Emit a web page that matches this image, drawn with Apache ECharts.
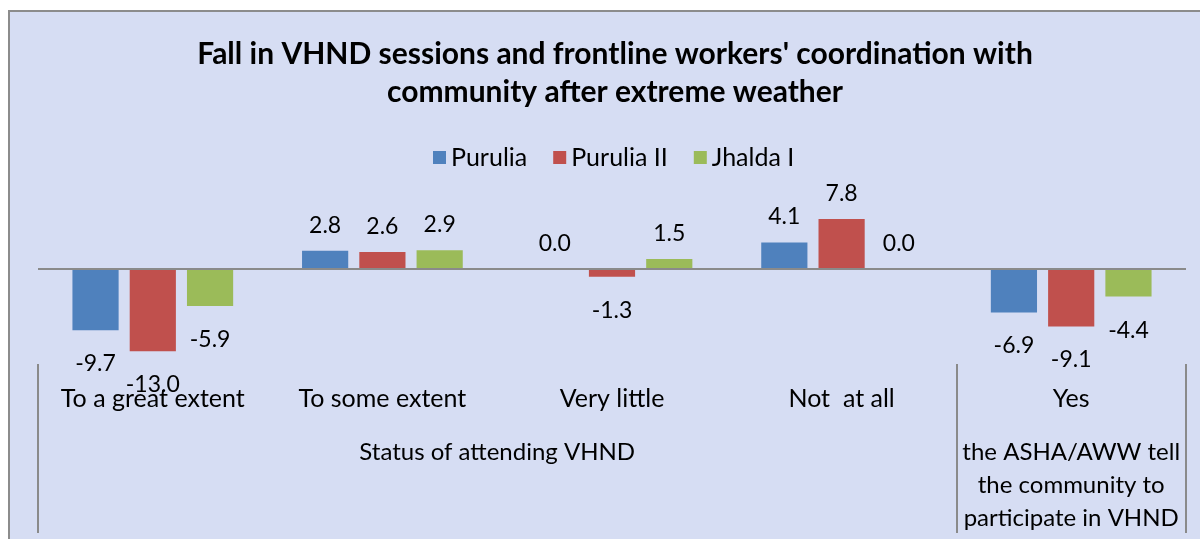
<!DOCTYPE html>
<html><head><meta charset="utf-8">
<script src="https://cdn.jsdelivr.net/npm/echarts@6/dist/echarts.min.js"></script>
<style>html,body{margin:0;padding:0;background:#fff}#c{width:1200px;height:539px}</style>
</head><body><div id="c"></div>
<script>
const titleLines = ["Fall in VHND sessions and frontline workers' coordination with", "community after extreme weather"];
const categories = ["To a great extent", "To some extent", "Very little", "Not  at all", "Yes"];
const groupLabels = ["", "", "", "", "Status of attending VHND", "", "", "", "", "the ASHA/AWW tell\nthe community to\nparticipate in VHND", ""];
const groupBoundaries = ["", "", "", "", "", ""];
const seriesNames = ["Purulia", "Purulia II", "Jhalda I"];
const purulia = [-9.7, 2.8, 0.0, 4.1, -6.9];
const puruliaII = [-13.0, 2.6, -1.3, 7.8, -9.1];
const jhaldaI = [-5.9, 2.9, 1.5, 0.0, -4.4];
const colors = ["#4F81BD", "#C0504D", "#9BBB59"];
const FONT = "Lato";

const chart = echarts.init(document.getElementById('c'), null, {renderer: 'canvas'});
function mk(name, vals, color, withZero) {
  const s = {
    name: name, type: 'bar', xAxisIndex: 0, yAxisIndex: 0,
    barGap: '24%', barCategoryGap: '30%',
    itemStyle: {color: color},
    data: vals.map(v => ({
      value: v,
      label: {position: v < 0 ? 'bottom' : 'top', distance: v < 0 ? 22 : 14}
    })),
    label: {show: true, color: '#000', fontFamily: FONT, fontSize: 23,
      formatter: p => p.value.toFixed(1)}
  };
  if (withZero) {
    s.markLine = {silent: true, symbol: 'none', label: {show: false},
      lineStyle: {color: '#8a8a8a', width: 2, type: 'solid'},
      data: [{yAxis: 0}], animation: false};
  }
  return s;
}
chart.setOption({
  animation: false,
  backgroundColor: '#ffffff',
  graphic: [{type: 'rect', z: -100, shape: {x: 9, y: 11, width: 1200, height: 540},
    style: {fill: '#d6ddf3', stroke: '#8c8c8c', lineWidth: 2}}],
  title: {text: titleLines.join('\n'), left: 610, top: 30, textAlign: 'center',
    textStyle: {fontFamily: FONT, fontWeight: 'bold', fontSize: 30, lineHeight: 38, color: '#000'}},
  legend: {top: 140, left: 428, icon: 'rect', itemWidth: 13, itemHeight: 13, itemGap: 26,
    data: seriesNames,
    textStyle: {fontFamily: FONT, fontSize: 25, color: '#000'}},
  grid: {left: 38, right: 14, top: 205, bottom: 175, containLabel: false},
  xAxis: [{
    type: 'category', data: categories, position: 'bottom',
    axisLine: {show: false, onZero: false},
    axisTick: {show: false},
    axisLabel: {interval: 0, margin: 22, color: '#000', fontFamily: FONT, fontSize: 25}
  }, {
    type: 'category', data: groupLabels, position: 'bottom', boundaryGap: false, offset: 51,
    axisLine: {show: false, onZero: false}, axisTick: {show: false},
    axisLabel: {interval: 0, margin: 21, color: '#000', fontFamily: FONT, fontSize: 24, lineHeight: 33}
  }, {
    type: 'category', data: groupBoundaries, position: 'bottom', boundaryGap: false, offset: 0,
    axisLine: {show: false, onZero: false},
    axisTick: {show: true, length: 169, interval: (i) => i === 0 || i === 4 || i === 5,
      lineStyle: {color: '#8a8a8a', width: 2}},
    axisLabel: {show: false}
  }],
  yAxis: {type: 'value', min: -15, max: 10, show: false, splitLine: {show: false}},
  series: [mk(seriesNames[0], purulia, colors[0], true), mk(seriesNames[1], puruliaII, colors[1]), mk(seriesNames[2], jhaldaI, colors[2])]
});
</script></body></html>
